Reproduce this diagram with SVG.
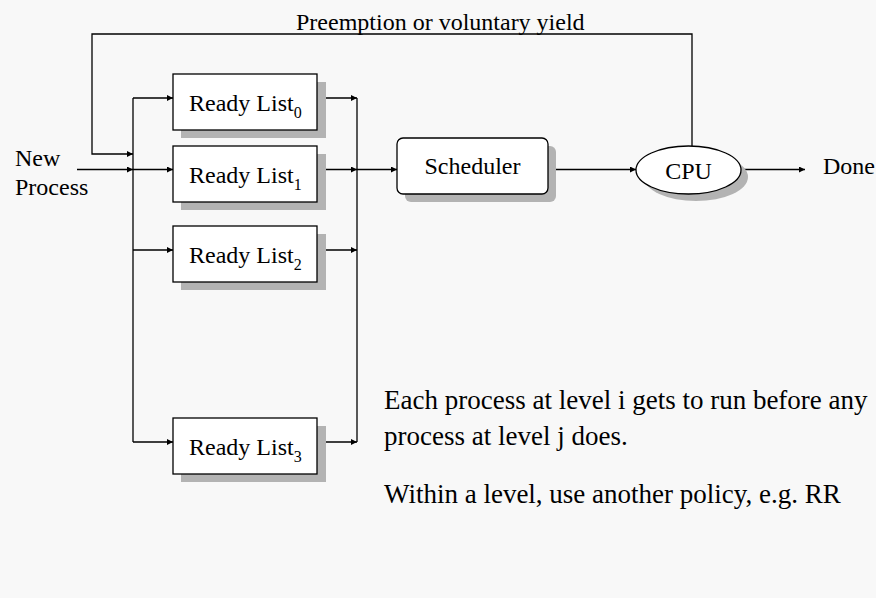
<svg xmlns="http://www.w3.org/2000/svg" width="876" height="598" viewBox="0 0 876 598">
  <defs>
    <marker id="arrow" viewBox="0 0 10 10" refX="10" refY="5" markerWidth="8" markerHeight="6" markerUnits="userSpaceOnUse" orient="auto">
      <path d="M0,0 L10,5 L0,10 z" fill="#000"/>
    </marker>
    <style>
      .bg { fill: #f8f8f8; }
      .box { fill: #fff; stroke: #000; stroke-width: 1.3; }
      .shadow { fill: #b3b3b3; }
      .wire { fill: none; stroke: #000; stroke-width: 1.3; }
      .lbl { font-family: "Liberation Serif", "Times New Roman", serif; font-size: 24px; fill: #000; }
      .sub { font-size: 16px; }
      .para { font-family: "Liberation Serif", "Times New Roman", serif; font-size: 27px; fill: #000; }
    </style>
  </defs>

  <rect class="bg" x="0" y="0" width="876" height="598"/>

  <!-- connectors -->
  <g id="connectors">
    <!-- feedback loop from CPU back to the ready lists -->
    <path class="wire" d="M692,146 V34 H92 V154 H133" marker-end="url(#arrow)"/>
    <!-- new process entry -->
    <path class="wire" d="M77,169.5 H133" marker-end="url(#arrow)"/>
    <!-- left distribution bus -->
    <path class="wire" d="M133,98 V442"/>
    <path class="wire" d="M133,98 H173" marker-end="url(#arrow)"/>
    <path class="wire" d="M133,169.5 H173" marker-end="url(#arrow)"/>
    <path class="wire" d="M133,250 H173" marker-end="url(#arrow)"/>
    <path class="wire" d="M133,442 H173" marker-end="url(#arrow)"/>
    <!-- right collection bus -->
    <path class="wire" d="M357,98 V442"/>
    <path class="wire" d="M317,98 H357" marker-end="url(#arrow)"/>
    <path class="wire" d="M317,169.5 H357" marker-end="url(#arrow)"/>
    <path class="wire" d="M317,250 H357" marker-end="url(#arrow)"/>
    <path class="wire" d="M317,442 H357" marker-end="url(#arrow)"/>
    <!-- bus to scheduler, scheduler to CPU, CPU to done -->
    <path class="wire" d="M357,169.5 H397" marker-end="url(#arrow)"/>
    <path class="wire" d="M548,169.5 H636" marker-end="url(#arrow)"/>
    <path class="wire" d="M741,169.5 H805" marker-end="url(#arrow)"/>
  </g>

  <g id="ready0">
    <rect class="shadow" x="181" y="82" width="145" height="56"/>
    <rect class="box" x="173" y="74" width="144" height="56"/>
    <text class="lbl" x="189" y="111">Ready List<tspan class="sub" dy="7">0</tspan></text>
  </g>

  <g id="ready1">
    <rect class="shadow" x="181" y="154" width="145" height="56"/>
    <rect class="box" x="173" y="146" width="144" height="56"/>
    <text class="lbl" x="189" y="183">Ready List<tspan class="sub" dy="7">1</tspan></text>
  </g>

  <g id="ready2">
    <rect class="shadow" x="181" y="234" width="145" height="56"/>
    <rect class="box" x="173" y="226" width="144" height="56"/>
    <text class="lbl" x="189" y="263">Ready List<tspan class="sub" dy="7">2</tspan></text>
  </g>

  <g id="ready3">
    <rect class="shadow" x="181" y="426" width="145" height="56"/>
    <rect class="box" x="173" y="418" width="144" height="56"/>
    <text class="lbl" x="189" y="455">Ready List<tspan class="sub" dy="7">3</tspan></text>
  </g>

  <g id="scheduler">
    <rect class="shadow" x="405" y="146" width="151" height="56" rx="6"/>
    <rect class="box" x="397" y="138" width="151" height="56" rx="6"/>
    <text class="lbl" x="472.5" y="174" text-anchor="middle">Scheduler</text>
  </g>

  <g id="cpu">
    <ellipse class="shadow" cx="696" cy="177" rx="52" ry="24"/>
    <ellipse class="box" cx="688.5" cy="170" rx="52.5" ry="24"/>
    <text class="lbl" x="688.5" y="179" text-anchor="middle">CPU</text>
  </g>

  <g id="new-process">
    <text class="lbl" x="15" y="166">New</text>
    <text class="lbl" x="15" y="195">Process</text>
  </g>

  <g id="done">
    <text class="lbl" x="823" y="174">Done</text>
  </g>

  <g id="feedback-label">
    <text class="lbl" x="296" y="30">Preemption or voluntary yield</text>
  </g>

  <g id="notes">
    <text class="para" x="384" y="409">Each process at level i gets to run before any</text>
    <text class="para" x="384" y="445">process at level j does.</text>
    <text class="para" x="384" y="503">Within a level, use another policy, e.g. RR</text>
  </g>
</svg>
